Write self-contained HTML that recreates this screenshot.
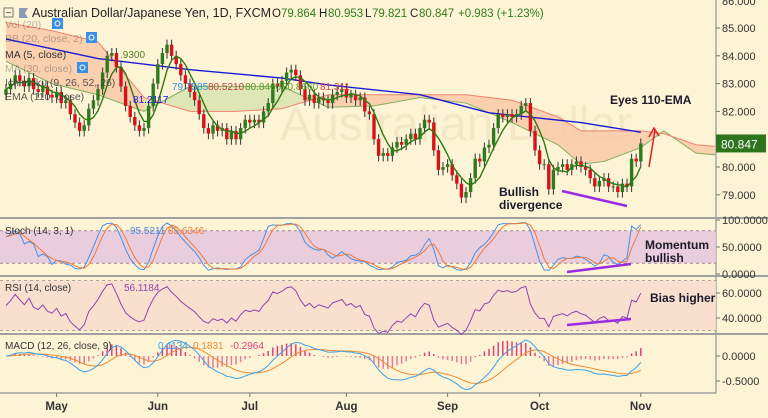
<!DOCTYPE html>
<html><head><meta charset="utf-8">
<style>
body{margin:0;background:#fdf4d6;font-family:"Liberation Sans",sans-serif;}
#wrap{position:relative;width:768px;height:418px;overflow:hidden;background:#fdf4d6;}
svg{position:absolute;left:0;top:0;}
</style></head>
<body>
<div id="wrap">
<svg id="chart" width="768" height="418"></svg>
</div>
<script>
// ---- data ----
const closes=[82.8,83.0,83.3,83.1,82.9,83.2,82.8,82.7,82.9,82.6,
82.5,82.7,82.3,82.4,81.9,81.6,81.3,81.5,82.1,82.4,
82.8,83.4,84.0,84.1,83.6,82.9,82.2,81.8,81.5,81.3,
81.4,82.2,83.0,83.7,84.1,84.4,84.0,83.7,83.3,83.0,
82.7,82.4,81.9,81.4,81.2,81.5,81.3,81.4,81.0,81.3,
81.0,81.4,81.7,81.6,81.7,81.6,82.0,82.3,83.0,82.9,
83.1,83.4,83.5,83.3,82.8,82.4,82.6,82.3,82.5,82.4,
82.3,82.6,82.7,82.8,82.5,82.6,82.4,82.5,82.0,81.9,
81.0,80.4,80.5,80.4,80.7,80.9,80.8,81.0,81.2,81.0,
81.4,81.7,81.6,80.6,79.9,80.0,80.1,79.7,79.4,78.9,
79.1,79.6,80.3,80.2,80.7,80.8,81.4,81.9,81.8,81.9,
81.8,81.9,82.2,82.3,81.3,80.6,80.1,80.1,79.2,79.9,
80.0,80.1,79.9,80.1,80.2,80.0,79.9,79.6,79.3,79.5,
79.6,79.3,79.3,79.1,79.4,79.3,80.3,80.2,80.847];
const firstOpen=82.6;
const emaBars=[0,20,40,60,70,90,105,125,138];
const ema110=[84.6,83.9,83.5,83.2,82.95,82.6,81.95,81.6,81.25];
const cloudBars=[0,10,20,30,40,50,60,70,80,90,100,110,120,125,130,138,143,150,157];
const spanA=[83.8,83.0,82.6,82.0,82.9,82.9,82.9,82.15,82.2,82.5,82.3,81.6,80.8,80.1,80.2,80.7,81.3,80.5,80.4];
const spanB=[85.2,84.9,84.5,82.5,82.0,82.0,82.1,82.6,82.6,82.6,82.6,82.4,81.8,81.3,81.3,81.3,81.2,80.8,80.7];
const priceTicks=[79,80,81,82,83,84,85,86];
const monthLabels=["May","Jun","Jul","Aug","Sep","Oct","Nov"];
const monthBars=[11,33,53,74,96,116,138];

// ---- scales ----
const N=closes.length;
const X=i=>6+i*4.6;
const PY=p=>167-(p-80)*27.8;
const SY=v=>274-v*0.54;
const RY=v=>318-(v-40)*1.25;
const MY=v=>356-v*50;
const svg=document.getElementById('chart');
const NS='http://www.w3.org/2000/svg';
function mk(tag,attrs,parent){const e=document.createElementNS(NS,tag);for(const k in attrs)e.setAttribute(k,attrs[k]);(parent||svg).appendChild(e);return e;}
function txt(x,y,s,attrs,parent){const t=mk('text',Object.assign({x:x,y:y},attrs),parent);t.textContent=s;return t;}

const defs=mk('defs',{});
const cp=mk('clipPath',{id:'mainclip'},defs);mk('rect',{x:0,y:0,width:715,height:217},cp);

mk('rect',{x:0,y:0,width:768,height:418,fill:'#fdf4d6'});
const wm=txt(280,140,'Australian Dollar',{'font-size':48,fill:'#f3e7c6','font-family':'Liberation Sans, sans-serif'});



// cloud
const gCloud=mk('g',{'clip-path':'url(#mainclip)'});


for(let k=0;k<cloudBars.length-1;k++){
  const x1=X(cloudBars[k]),x2=X(cloudBars[k+1]);
  const a1=PY(spanA[k]),a2=PY(spanA[k+1]),b1=PY(spanB[k]),b2=PY(spanB[k+1]);
  const green=(spanA[k]+spanA[k+1])>(spanB[k]+spanB[k+1]);
  mk('polygon',{points:`${x1},${a1} ${x2},${a2} ${x2},${b2} ${x1},${b1}`,fill:green?'#d9e3b0':'#f9c9a8',opacity:0.85},gCloud);
}
let pa='',pb='';
cloudBars.forEach((b,k)=>{pa+=(k?'L':'M')+X(b)+','+PY(spanA[k]);pb+=(k?'L':'M')+X(b)+','+PY(spanB[k]);});
mk('path',{d:pa,fill:'none',stroke:'#7fae5c','stroke-width':1},gCloud);
mk('path',{d:pb,fill:'none',stroke:'#f08070','stroke-width':1},gCloud);

// EMA 110
let pe='';emaBars.forEach((b,k)=>{pe+=(k?'L':'M')+X(b)+','+PY(ema110[k]);});
const ema=mk('path',{d:pe,fill:'none',stroke:'#1a1ad6','stroke-width':1.4,'clip-path':'url(#mainclip)'});



// candles
const highs=[],lows=[];
const gC=mk('g',{'clip-path':'url(#mainclip)'});


for(let i=0;i<N;i++){
  const o=i?closes[i-1]:firstOpen,c=closes[i];
  const h=Math.max(o,c)+0.18,l=Math.min(o,c)-0.2;highs.push(h);lows.push(l);
  const up=c>=o,col=up?'#2f7a1f':'#d8111b';
  mk('line',{x1:X(i),x2:X(i),y1:PY(h),y2:PY(l),stroke:'#333','stroke-width':1},gC);
  const y1=PY(Math.max(o,c)),y2=PY(Math.min(o,c));
  const r=mk('rect',{x:X(i)-1.7,y:y1,width:3.4,height:Math.max(1,y2-y1),fill:col},gC);
  
  
}
// MA5
let pm='';
for(let i=0;i<N;i++){let s=0,n=0;for(let j=Math.max(0,i-4);j<=i;j++){s+=closes[j];n++;}pm+=(i?'L':'M')+X(i)+','+PY(s/n);}
const ma=mk('path',{d:pm,fill:'none',stroke:'#2d7a12','stroke-width':1.4,'clip-path':'url(#mainclip)'});



// pane separators & axis
mk('rect',{x:715,y:0,width:53,height:418,fill:'#fdf4d6'});
mk('line',{x1:716,y1:0,x2:716,y2:393,stroke:'#a8a8a8','stroke-width':1.5});
[218,276,334].forEach(y=>mk('line',{x1:0,x2:768,y1:y,y2:y,stroke:'#a0a0a0','stroke-width':2}));
mk('line',{x1:0,x2:716,y1:393,y2:393,stroke:'#a0a0a0','stroke-width':1.5});

const axisAttr={'font-size':11,fill:'#333','font-family':'Liberation Sans, sans-serif'};
priceTicks.forEach(p=>{const y=PY(p);if(y<2||y>215)return;mk('line',{x1:716,x2:720,y1:y,y2:y,stroke:'#777'});
  const t=txt(722,y+4,p.toFixed(3),axisAttr);});
txt(722,5,'86.000',axisAttr);
const pl=mk('rect',{x:716,y:PY(closes[N-1])-9,width:50,height:18,fill:'#2e741d'});


txt(721,PY(closes[N-1])+5,closes[N-1].toFixed(3),{'font-size':12,fill:'#fff','font-family':'Liberation Sans, sans-serif'});

// header
const hdr=mk('g',{});


mk('rect',{x:4,y:8,width:9,height:9,fill:'none',stroke:'#777'},hdr);
mk('line',{x1:6,x2:11,y1:12.5,y2:12.5,stroke:'#777'},hdr);
mk('polygon',{points:'19,8 28,8 25,13 28,18 19,18',fill:'#8b9ab8'},hdr);
txt(32,17,'Australian Dollar/Japanese Yen, 1D, FXCM',{'font-size':12.5,fill:'#222'},hdr);
txt(272,17,'O',{'font-size':11.5,fill:'#222'},hdr);txt(281,17,'79.864',{'font-size':11.5,fill:'#2e7d1c'},hdr);
txt(319,17,'H',{'font-size':11.5,fill:'#222'},hdr);txt(328,17,'80.953',{'font-size':11.5,fill:'#2e7d1c'},hdr);
txt(365,17,'L',{'font-size':11.5,fill:'#222'},hdr);txt(372,17,'79.821',{'font-size':11.5,fill:'#2e7d1c'},hdr);
txt(410,17,'C',{'font-size':11.5,fill:'#222'},hdr);txt(419,17,'80.847',{'font-size':11.5,fill:'#2e7d1c'},hdr);
txt(458,17,'+0.983 (+1.23%)',{'font-size':11.5,fill:'#2e7d1c'},hdr);

const legends=[['Vol (20)',28,52,0.35],['BB (20, close, 2)',42,86,0.35],['MA (5, close)',58,0,1],['MA (30, close)',72,77,0.35],['Ichimoku (9, 26, 52, 26)',86,0,0.8],['EMA (110, close)',100,0,0.8]];
legends.forEach((l)=>{const t=txt(5,l[1],l[0],{'font-size':10.5,fill:'#333',opacity:l[3]});
  
  const bx=l[2];
  if(bx){mk('rect',{x:bx,y:l[1]-10,width:11,height:11,fill:'#3a8ee6'});mk('circle',{cx:bx+5.5,cy:l[1]-4.5,r:2.5,fill:'none',stroke:'#fff'});}});
txt(120,58,'.9300',{'font-size':10,fill:'#4a7d26'});
txt(172,90,'79.7585',{'font-size':10,fill:'#2e8fe0'});
txt(208,90,'80.5210',{'font-size':10,fill:'#c04040'});
txt(245,90,'80.8460',{'font-size':10,fill:'#5a9a30'});
txt(282,90,'80.8660',{'font-size':10,fill:'#5a9a30'});
txt(320,90,'81.311',{'font-size':10,fill:'#e04040'});
txt(133,103,'81.2117',{'font-size':10,fill:'#1a1ad6'});

const bold={'font-size':12,'font-weight':'bold',fill:'#1a1a2a'};
txt(610,104,'Eyes 110-EMA',bold);
txt(499,196,'Bullish',bold);txt(499,209,'divergence',bold);
mk('line',{x1:562,y1:191,x2:627,y2:206,stroke:'#9a2be2','stroke-width':2.5});
mk('line',{x1:649,y1:167,x2:655,y2:130,stroke:'#e02020','stroke-width':1.5});
mk('polyline',{points:'649,137 654,128 659,136',fill:'none',stroke:'#e02020','stroke-width':1.5});

// ---- Stochastic ----
mk('rect',{x:0,y:SY(80),width:716,height:SY(20)-SY(80),fill:'#e6c6de',opacity:0.85});
[80,20].forEach(v=>mk('line',{x1:0,x2:716,y1:SY(v),y2:SY(v),stroke:'#a08a9a','stroke-dasharray':'3,3'}));
const rawK=[];for(let i=0;i<N;i++){let h=-1e9,l=1e9;for(let j=Math.max(0,i-13);j<=i;j++){h=Math.max(h,highs[j]);l=Math.min(l,lows[j]);}rawK.push((closes[i]-l)/(h-l)*100);}
function sma3(a){return a.map((v,i)=>{let s=0,n=0;for(let j=Math.max(0,i-2);j<=i;j++){s+=a[j];n++;}return s/n;});}
const K=rawK.map((v,i)=>i>=N-3?v:(v+ (i?rawK[i-1]:v))/2);
const D=sma3(K);
function line(arr,Y,col,name,w){let d='';arr.forEach((v,i)=>{d+=(i?'L':'M')+X(i)+','+Y(v);});const p=mk('path',{d:d,fill:'none',stroke:col,'stroke-width':w||1});return p;}
line(K,SY,'#4a90e2','stoch-k-line');line(D,SY,'#f07a3a','stoch-d-line');
txt(5,234,'Stoch (14, 3, 1)',{'font-size':10,fill:'#333'});
txt(130,234,'95.5211',{'font-size':10,fill:'#4a90e2'});txt(168,234,'85.6346',{'font-size':10,fill:'#f07a3a'});
txt(645,249,'Momentum',bold);txt(645,262,'bullish',bold);
mk('line',{x1:567,y1:272,x2:631,y2:264,stroke:'#9a2be2','stroke-width':2.5});
[[100,'100.0000'],[50,'50.0000'],[0,'0.0000']].forEach(t=>{mk('line',{x1:716,x2:720,y1:SY(t[0]),y2:SY(t[0]),stroke:'#777'});txt(722,SY(t[0])+4,t[1],axisAttr);});

// ---- RSI ----
mk('rect',{x:0,y:RY(70),width:716,height:RY(30)-RY(70),fill:'#f7d9cc',opacity:0.8});
[70,30].forEach(v=>mk('line',{x1:0,x2:716,y1:RY(v),y2:RY(v),stroke:'#b0a0a0','stroke-dasharray':'3,3'}));
const RSI=[];let ag=0.1,al=0.1;
for(let i=0;i<N;i++){const ch=i?closes[i]-closes[i-1]:0;const g=Math.max(ch,0),l=Math.max(-ch,0);
  ag=(ag*13+g)/14;al=(al*13+l)/14;
  RSI.push(100-100/(1+ag/al));}
line(RSI,RY,'#8e44ad','rsi-line');
txt(5,291,'RSI (14, close)',{'font-size':10,fill:'#333'});txt(124,291,'56.1184',{'font-size':10,fill:'#8e44ad'});
txt(650,302,'Bias higher',bold);
mk('line',{x1:567,y1:325,x2:631,y2:319,stroke:'#9a2be2','stroke-width':2.5});
[[60,'60.0000'],[40,'40.0000']].forEach(t=>{mk('line',{x1:716,x2:720,y1:RY(t[0]),y2:RY(t[0]),stroke:'#777'});txt(722,RY(t[0])+4,t[1],axisAttr);});

// ---- MACD ----
function emaArr(a,n){const k=2/(n+1);const o=[];a.forEach((v,i)=>o.push(i?o[i-1]+k*(v-o[i-1]):v));return o;}
const e12=emaArr(closes,12),e26=emaArr(closes,26);
const macd=e12.map((v,i)=>v-e26[i]);const sig=emaArr(macd,9);
const gH=mk('g',{});
macd.forEach((v,i)=>{const h=v-sig[i];mk('line',{x1:X(i),x2:X(i),y1:MY(0),y2:MY(h),stroke:h>=0?'#e0407a':'#e77a9a','stroke-width':1.5},gH);});
line(sig,MY,'#f08a30','macd-signal-line');line(macd,MY,'#3aa0e8','macd-line');
txt(5,349,'MACD (12, 26, close, 9)',{'font-size':10,fill:'#333'});
txt(158,349,'0.1134',{'font-size':10,fill:'#3aa0e8'});txt(193,349,'0.1831',{'font-size':10,fill:'#f08a30'});txt(230,349,'-0.2964',{'font-size':10,fill:'#e0407a'});
[[0,'0.0000'],[-0.5,'-0.5000']].forEach(t=>{mk('line',{x1:716,x2:720,y1:MY(t[0]),y2:MY(t[0]),stroke:'#777'});txt(722,MY(t[0])+4,t[1],axisAttr);});

// ---- x axis ----
monthLabels.forEach((m,k)=>{const x=X(monthBars[k]);mk('line',{x1:x,x2:x,y1:393,y2:397,stroke:'#777'});
  const t=txt(x,410,m,{'font-size':11.5,'font-weight':'bold',fill:'#333','text-anchor':'middle'});
  });
</script>
</body></html>
